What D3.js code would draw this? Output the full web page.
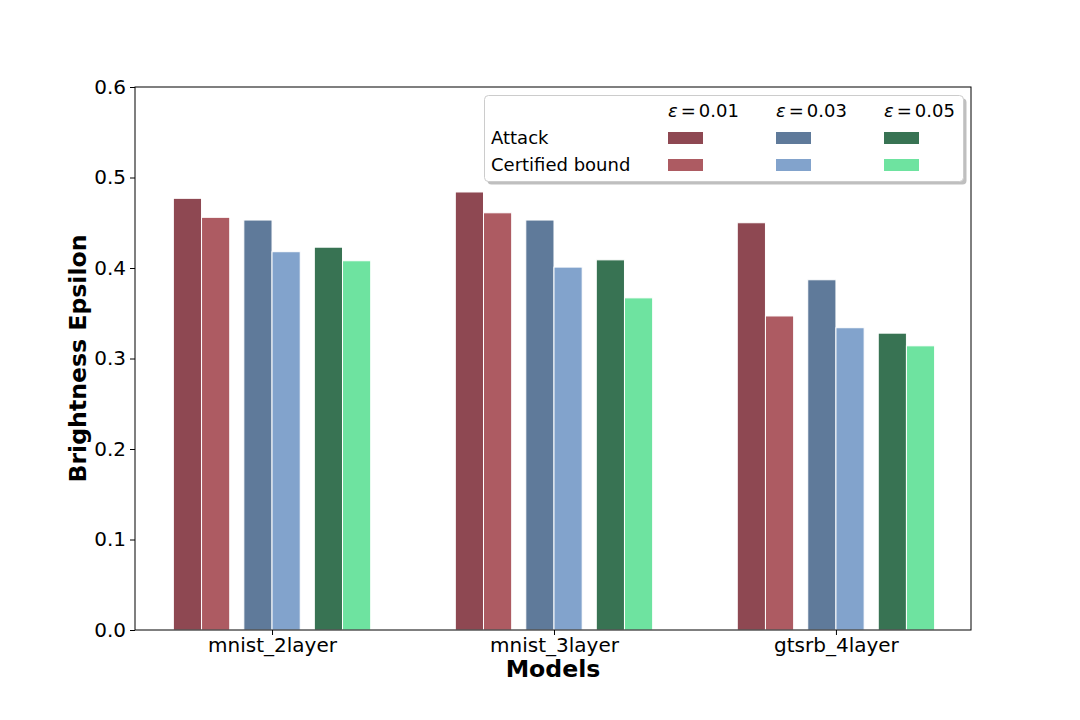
<!DOCTYPE html>
<html>
  <head>
    <meta charset="utf-8">
    <script src="https://d3js.org/d3.v7.min.js"></script>
    <style>
      body { margin: 0; background: #fff; }
      text { font-family: "DejaVu Sans", sans-serif; fill: #000; }
    </style>
  </head>
  <body>
    <div id="chart"></div>
    <script type="text/javascript">
    // chart data
    var models = ["mnist_2layer", "mnist_3layer", "gtsrb_4layer"];
    var epsilons = ["0.01", "0.03", "0.05"];
    // one array per epsilon, values per model
    var attack_001 = [0.477, 0.484, 0.450];
    var attack_003 = [0.453, 0.453, 0.387];
    var attack_005 = [0.423, 0.409, 0.328];
    var cert_001 = [0.456, 0.461, 0.347];
    var cert_003 = [0.418, 0.401, 0.334];
    var cert_005 = [0.408, 0.367, 0.314];
    var yTicks = [0.0, 0.1, 0.2, 0.3, 0.4, 0.5, 0.6];

    var attackColors = ["#8e4852", "#5f7a9a", "#387353"];
    var certColors = ["#ad5b62", "#82a3cc", "#6ee3a0"];

    var attack = [attack_001, attack_003, attack_005];
    var cert = [cert_001, cert_003, cert_005];

    function draw() {
      var width = 1080, height = 720;
      var pLeft = 135, pRight = 971, pTop = 87, pBottom = 630;

      var svg = d3.select("#chart")
        .append("svg")
        .attr("width", width)
        .attr("height", height);

      // group index -> pixel
      var x = d3.scaleLinear().domain([-0.486, 2.479]).range([pLeft, pRight]);
      var y = d3.scaleLinear().domain([0, 0.6]).range([pBottom, pTop]);

      var barW = 0.1;
      var pairOffset = [-0.25, 0, 0.25];

      // build flat bar list
      var bars = [];
      models.forEach(function(m, i) {
        epsilons.forEach(function(e, j) {
          var c = i + pairOffset[j];
          bars.push({x0: c - barW, v: attack[j][i], color: attackColors[j]});
          bars.push({x0: c, v: cert[j][i], color: certColors[j]});
        });
      });

      svg.append("g").selectAll("rect")
        .data(bars)
        .enter().append("rect")
        .attr("x", function(d) { return x(d.x0); })
        .attr("y", function(d) { return y(d.v); })
        .attr("width", function(d) { return x(d.x0 + barW) - x(d.x0); })
        .attr("height", function(d) { return y(0) - y(d.v); })
        .attr("fill", function(d) { return d.color; })
        .attr("stroke", "#fff")
        .attr("stroke-width", 1);

      // frame
      svg.append("rect")
        .attr("x", pLeft).attr("y", pTop)
        .attr("width", pRight - pLeft).attr("height", pBottom - pTop)
        .attr("fill", "none").attr("stroke", "#000").attr("stroke-width", 1);

      // y axis
      var yAxis = d3.axisLeft(y)
        .tickValues(yTicks)
        .tickFormat(d3.format(".1f"))
        .tickSize(5).tickPadding(4);
      var gy = svg.append("g").attr("transform", "translate(" + pLeft + ",0)").call(yAxis);
      gy.select(".domain").remove();
      gy.selectAll("text").style("font-size", "20px").attr("fill", "#000");
      gy.selectAll("line").attr("stroke", "#000");

      // x axis
      var xAxis = d3.axisBottom(x)
        .tickValues(d3.range(models.length))
        .tickFormat(function(d) { return models[d]; })
        .tickSize(5).tickPadding(3);
      var gx = svg.append("g").attr("transform", "translate(0," + pBottom + ")").call(xAxis);
      gx.select(".domain").remove();
      gx.selectAll("text").style("font-size", "20px").attr("fill", "#000");
      gx.selectAll("line").attr("stroke", "#000");

      // axis titles
      svg.append("text")
        .attr("x", (pLeft + pRight) / 2).attr("y", 677)
        .attr("text-anchor", "middle")
        .style("font-size", "23.6px").style("font-weight", "bold")
        .text("Models");

      svg.append("text")
        .attr("transform", "translate(86," + (pTop + pBottom) / 2 + ") rotate(-90)")
        .attr("text-anchor", "middle")
        .style("font-size", "23.6px").style("font-weight", "bold")
        .text("Brightness Epsilon");

      // legend
      var lg = svg.append("g");
      lg.append("rect")
        .attr("x", 487.5).attr("y", 98.5).attr("width", 479).attr("height", 86)
        .attr("rx", 4).attr("fill", "#808080").attr("opacity", 0.5);
      lg.append("rect")
        .attr("x", 484.5).attr("y", 95.5).attr("width", 479).attr("height", 86)
        .attr("rx", 4).attr("fill", "#fff").attr("stroke", "#cccccc").attr("stroke-width", 1);

      var colX = [668, 776, 884];
      epsilons.forEach(function(e, j) {
        var t = lg.append("text").attr("x", colX[j]).attr("y", 117).style("font-size", "18px");
        t.append("tspan").style("font-style", "italic").text("\u03b5");
        t.append("tspan").attr("dx", 3).text("=");
        t.append("tspan").attr("dx", 3).text(e);
        lg.append("rect").attr("x", colX[j]).attr("y", 132).attr("width", 35).attr("height", 12)
          .attr("fill", attackColors[j]);
        lg.append("rect").attr("x", colX[j]).attr("y", 159).attr("width", 35).attr("height", 12)
          .attr("fill", certColors[j]);
      });
      lg.append("text").attr("x", 491).attr("y", 144).style("font-size", "18px").text("Attack");
      lg.append("text").attr("x", 491).attr("y", 171).style("font-size", "18px").text("Certified bound");
    }

    draw();
    </script>
  </body>
</html>
